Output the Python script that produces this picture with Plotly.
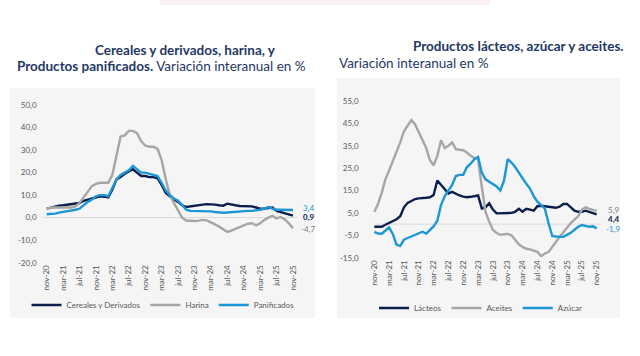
import plotly.graph_objects as go

# ---------------- data ----------------
mes_abbr = ["ene", "feb", "mar", "abr", "may", "jun", "jul", "ago", "sep", "oct", "nov", "dic"]
months = []
for k in range(61):
    m = (10 + k) % 12
    y = 20 + (10 + k) // 12
    months.append(f"{mes_abbr[m]}-{y}")
tick_labels = months[::4]

cereales = [4.0, 4.5, 5.0, 5.3, 5.5, 5.8, 6.0, 6.2, 6.5, 7.5, 8.0, 8.5, 9.0, 9.5, 9.3, 9.0,
            12.5, 17.0, 18.0, 19.5, 20.5, 21.5, 20.0, 18.5, 18.5, 18.0, 18.0, 17.5, 14.5, 11.0,
            9.5, 8.0, 7.0, 5.5, 4.7, 5.0, 5.5, 5.5, 5.8, 6.0, 6.0, 5.8, 5.5, 5.3, 6.2, 6.0,
            5.5, 5.2, 5.2, 5.0, 5.0, 4.5, 4.0, 4.0, 4.3, 4.5, 3.0, 2.5, 2.0, 1.5, 0.9]
harina = [4.0, 4.5, 4.5, 4.5, 4.5, 4.3, 4.5, 5.0, 6.5, 9.0, 11.5, 14.0, 15.0, 15.5, 15.5, 15.5,
          19.0, 28.0, 36.0, 36.5, 38.5, 38.5, 37.5, 34.0, 32.0, 31.5, 31.5, 30.5, 25.5, 17.0,
          10.0, 6.5, 3.0, 0.0, -1.3, -1.5, -1.5, -1.3, -1.0, -1.2, -2.0, -3.0, -4.0, -5.0, -6.3,
          -5.8, -5.0, -4.0, -3.3, -2.7, -2.5, -3.4, -2.5, -1.0, 0.0, 0.8, -0.3, 0.3, -0.8, -2.5, -4.7]
panificados = [1.5, 1.5, 1.8, 2.2, 2.5, 2.8, 3.0, 3.5, 4.0, 5.5, 7.0, 8.0, 9.5, 10.0, 10.0, 9.5,
               13.5, 17.0, 19.0, 20.0, 21.0, 23.0, 21.5, 20.0, 20.0, 19.5, 19.0, 18.5, 15.5, 12.0,
               10.0, 8.5, 7.5, 5.5, 3.5, 3.0, 3.0, 3.0, 2.8, 2.8, 2.8, 2.5, 2.3, 2.2, 2.3, 2.5,
               2.5, 2.6, 2.8, 3.0, 3.0, 3.2, 3.5, 4.0, 4.7, 4.0, 3.5, 3.5, 3.4, 3.5, 3.4]

lacteos = [-1.2, -1.2, -1.2, -0.3, 0.6, 1.2, 2.2, 3.5, 7.5, 9.5, 10.5, 11.2, 11.5, 11.8, 11.8, 12.0,
           13.0, 19.5, 17.5, 15.5, 13.7, 14.4, 13.5, 12.8, 12.3, 12.0, 12.2, 12.5, 12.8, 7.0,
           7.5, 9.3, 6.5, 4.8, 4.8, 4.8, 5.0, 5.0, 5.5, 6.8, 5.5, 6.8, 6.5, 6.0, 8.0, 8.2,
           8.0, 7.8, 7.5, 7.3, 7.8, 9.0, 9.0, 7.5, 6.0, 5.5, 5.5, 6.0, 5.5, 4.8, 4.4]
aceites = [5.5, 9.0, 14.0, 20.0, 24.0, 28.0, 32.0, 36.5, 41.5, 44.0, 46.5, 44.5, 41.0, 38.0, 34.0,
           28.5, 26.3, 30.5, 37.5, 34.0, 35.0, 36.5, 33.5, 33.2, 33.0, 32.0, 30.5, 29.5, 29.0,
           16.7, 5.5, 1.0, -2.5, -4.0, -4.8, -4.5, -4.4, -5.0, -7.0, -9.0, -10.2, -11.0, -11.3,
           -11.8, -12.4, -14.3, -13.1, -12.5, -10.5, -8.0, -5.7, -3.5, -1.5, 0.5, 2.0, 3.5, 6.5,
           7.5, 6.8, 6.3, 5.9]
azucar = [-3.5, -4.2, -4.3, -3.0, -1.5, -4.5, -9.2, -9.7, -7.0, -6.2, -5.5, -4.8, -4.0, -3.4, -4.2,
          -2.5, -1.0, 1.5, 8.5, 12.5, 15.0, 17.5, 21.5, 22.0, 22.0, 25.5, 27.0, 29.0, 30.0, 23.0,
          20.0, 19.0, 17.8, 16.8, 15.0, 19.5, 29.0, 27.5, 25.5, 23.0, 20.0, 18.0, 15.9, 12.5,
          10.0, 8.5, 7.0, 0.5, -5.3, -5.5, -5.7, -5.7, -4.8, -3.9, -2.5, -1.2, -0.4, -0.8, -1.2,
          -1.0, -1.9]

left_yticks = [-20, -10, 0, 10, 20, 30, 40, 50]
right_yticks = [-15, -5, 5, 15, 25, 35, 45, 55]

# ---------------- style ----------------
NAVY = "#0c1e4c"
GREY = "#a6a6a6"
BLUE = "#1d96d4"
TITLE = "#1f3864"
TICK = "#595959"
FONT = "Lato"
W, H = 640, 356


def px(x):
    return x / W


def py(y):
    return 1 - y / H


def fmt(v):
    return f"{v:.1f}".replace(".", ",")


fig = go.Figure()

left_series = [("Cereales y Derivados", cereales, NAVY),
               ("Harina", harina, GREY),
               ("Panificados", panificados, BLUE)]
right_series = [("Lácteos", lacteos, NAVY),
                ("Aceites", aceites, GREY),
                ("Azúcar", azucar, BLUE)]

for name, vals, col in left_series:
    fig.add_trace(go.Scatter(x=months, y=vals, name=name, mode="lines",
                             line=dict(color=col, width=2.4), xaxis="x", yaxis="y",
                             legend="legend"))
for name, vals, col in right_series:
    fig.add_trace(go.Scatter(x=months, y=vals, name=name, mode="lines",
                             line=dict(color=col, width=2.4), xaxis="x2", yaxis="y2",
                             legend="legend2"))

xaxis_common = dict(type="category", range=[-1, 61], tickmode="array", tickvals=tick_labels,
                    ticktext=tick_labels, tickangle=-90, showgrid=False, showline=False,
                    zeroline=False, ticks="", automargin=False,
                    tickfont=dict(family=FONT, size=8, color=TICK))

fig.update_layout(
    width=W, height=H, margin=dict(l=0, r=0, t=0, b=0, autoexpand=False),
    paper_bgcolor="white", plot_bgcolor="rgba(0,0,0,0)",
    font=dict(family=FONT, color=TICK),
    xaxis=dict(domain=[px(42.6), px(297.1)], anchor="y", **xaxis_common),
    yaxis=dict(domain=[py(262.7), py(105)], anchor="x", range=[-20, 50], automargin=False,
               tickmode="array", tickvals=left_yticks, ticktext=[fmt(v) for v in left_yticks],
               showgrid=False, zeroline=True, zerolinecolor="#d9d9d9", zerolinewidth=1,
               showline=False, ticks="", ticklabelstandoff=5,
               tickfont=dict(family=FONT, size=8, color=TICK)),
    xaxis2=dict(domain=[px(370.6), px(600.4)], anchor="y2", **xaxis_common),
    yaxis2=dict(domain=[py(257.7), py(101)], anchor="x2", range=[-15, 55], automargin=False,
                tickmode="array", tickvals=right_yticks, ticktext=[fmt(v) for v in right_yticks],
                showgrid=False, zeroline=False, showline=False, ticks="", ticklabelstandoff=11,
                tickfont=dict(family=FONT, size=8, color=TICK)),
    legend=dict(orientation="h", x=px(163), y=py(305), xanchor="center", yanchor="middle",
                bgcolor="rgba(0,0,0,0)", font=dict(family=FONT, size=8, color=TICK),
                itemwidth=30, tracegroupgap=0),
    legend2=dict(orientation="h", x=px(481), y=py(308), xanchor="center", yanchor="middle",
                 bgcolor="rgba(0,0,0,0)", font=dict(family=FONT, size=8, color=TICK),
                 itemwidth=30, tracegroupgap=0),
    showlegend=True,
)

shapes = [
    # panels
    dict(type="rect", xref="paper", yref="paper", x0=px(10), x1=px(315), y0=py(318), y1=py(88),
         fillcolor="#f5f5f5", line=dict(width=0), layer="below"),
    dict(type="rect", xref="paper", yref="paper", x0=px(337), x1=px(620), y0=py(318), y1=py(78),
         fillcolor="#f5f5f5", line=dict(width=0), layer="below"),
    # zero line right chart
    dict(type="line", xref="x2 domain", yref="y2", x0=0.02, x1=1.0, y0=0, y1=0,
         line=dict(color="#d9d9d9", width=1), layer="below"),
    # faint pink smear at top
    dict(type="rect", xref="paper", yref="paper", x0=px(160), x1=px(490), y0=py(5), y1=py(0),
         fillcolor="rgba(235,170,175,0.18)", line=dict(width=0), layer="below"),
]
fig.update_layout(shapes=shapes)

TS = 13.5
annotations = [
    dict(text="<b>Cereales y derivados, harina, y</b>", x=px(93), y=py(50), xanchor="left",
         yanchor="middle", font=dict(family=FONT, size=TS, color=TITLE)),
    dict(text="<b>Productos panificados.</b> Variación interanual en %", x=px(15), y=py(66),
         xanchor="left", yanchor="middle", font=dict(family=FONT, size=TS, color=TITLE)),
    dict(text="<b>Productos lácteos, azúcar y aceites.</b>", x=px(626), y=py(46), xanchor="right",
         yanchor="middle", font=dict(family=FONT, size=TS, color=TITLE)),
    dict(text="Variación interanual en %", x=px(337), y=py(63), xanchor="left",
         yanchor="middle", font=dict(family=FONT, size=TS, color=TITLE)),
    # end labels left
    dict(text=fmt(panificados[-1]), x=px(301), y=py(208), xanchor="left", yanchor="middle",
         font=dict(family=FONT, size=8, color=BLUE)),
    dict(text="<b>" + fmt(cereales[-1]) + "</b>", x=px(301), y=py(217), xanchor="left",
         yanchor="middle", font=dict(family=FONT, size=8, color=NAVY)),
    dict(text=fmt(harina[-1]), x=px(299), y=py(229), xanchor="left", yanchor="middle",
         font=dict(family=FONT, size=8, color="#7f7f7f")),
    # end labels right
    dict(text=fmt(aceites[-1]), x=px(606), y=py(210), xanchor="left", yanchor="middle",
         font=dict(family=FONT, size=8, color="#7f7f7f")),
    dict(text="<b>" + fmt(lacteos[-1]) + "</b>", x=px(606), y=py(219), xanchor="left",
         yanchor="middle", font=dict(family=FONT, size=8, color=NAVY)),
    dict(text=fmt(azucar[-1]), x=px(604), y=py(229), xanchor="left", yanchor="middle",
         font=dict(family=FONT, size=8, color=BLUE)),
]
for a in annotations:
    a.setdefault("xref", "paper")
    a.setdefault("yref", "paper")
    a.setdefault("showarrow", False)
fig.update_layout(annotations=annotations)

fig.write_html("out.html", config={"displayModeBar": False},
               post_script="document.body.style.margin='0px';")
